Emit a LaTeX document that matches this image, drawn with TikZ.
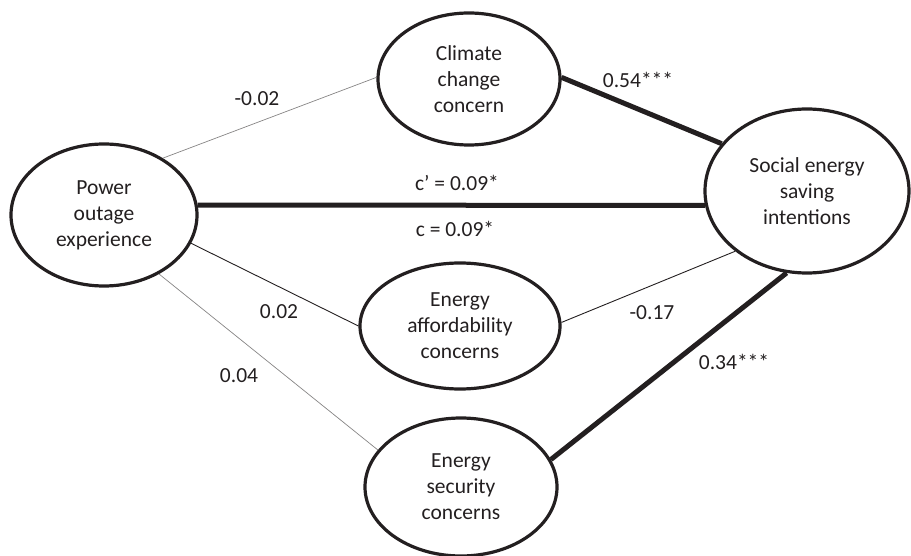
\documentclass[tikz,border=0pt]{standalone}
\usepackage{fontspec}
\setmainfont{Carlito}
\usetikzlibrary{shapes.geometric}
\definecolor{ink}{RGB}{35,31,32}

\begin{document}
\begin{tikzpicture}[x=1pt,y=-1pt,
  latent/.style={ellipse,draw=ink,line width=3.2pt,inner sep=0pt,align=center,text=ink,
    font=\fontsize{21.5}{26}\selectfont},
  coef/.style={text=ink,inner sep=1pt,font=\fontsize{21.5}{26}\selectfont},
  faint/.style={draw=ink!55,line width=0.7pt},
  weak/.style={draw=ink,line width=0.9pt},
  strong/.style={draw=ink,line width=5pt}]
\useasboundingbox (0,0) rectangle (911,556);
%put nodes
\node[latent,minimum width=186,minimum height=142] (power) at (104,215) {Power\\outage\\experience};
\node[latent,minimum width=182,minimum height=132] (climate) at (469,79) {Climate\\change\\concern};
\node[latent,minimum width=200,minimum height=126] (afford) at (460,326) {Energy\\affordability\\concerns};
\node[latent,minimum width=192,minimum height=138] (secur) at (461,487) {Energy\\security\\concerns};
\node[latent,minimum width=204,minimum height=164] (social) at (807,191) {Social energy\\saving\\intentions};
%paths
\draw[faint] (power.44) -- (climate.179);
\draw[strong] (climate.1) -- (social.151);
\draw[strong] (power.6) -- (social.188);
\draw[weak] (power.-18) -- (afford.180);
\draw[weak] (afford.2) -- (social.220);
\draw[faint] (power.-47) -- (secur.156);
\draw[strong] (secur.17) -- (social.256);
%coefficients
\node[coef] (a1) at (257,99) {-0.02};
\node[coef] (b1) at (638,80) {0.54***};
\node[coef] (cp) at (457,183) {c’ = 0.09*};
\node[coef] (ct) at (455,229) {c = 0.09*};
\node[coef] (a2) at (279,312) {0.02};
\node[coef] (b2) at (652,313) {-0.17};
\node[coef] (a3) at (239,376) {0.04};
\node[coef] (b3) at (734,362) {0.34***};
\end{tikzpicture}
\end{document}
